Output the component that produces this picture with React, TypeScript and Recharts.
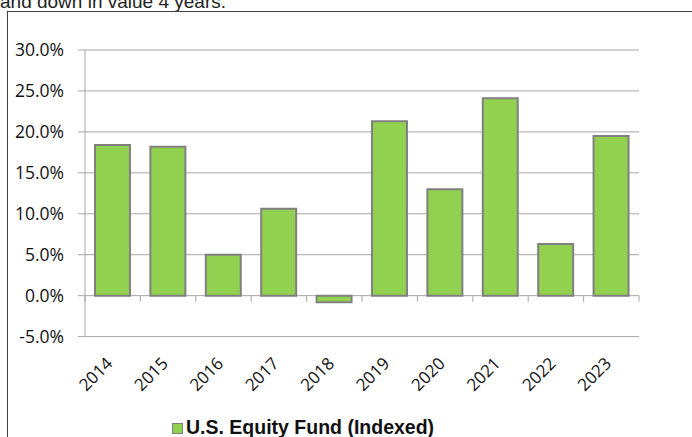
import React from 'react';
import { BarChart, Bar, XAxis, YAxis, CartesianGrid, Legend, ReferenceLine } from 'recharts';

const years = ['2014', '2015', '2016', '2017', '2018', '2019', '2020', '2021', '2022', '2023'];
const returns = [0.184, 0.182, 0.05, 0.106, -0.008, 0.213, 0.13, 0.241, 0.063, 0.195];
const yTicks = [-0.05, 0, 0.05, 0.1, 0.15, 0.2, 0.25, 0.3];
const seriesName = 'U.S. Equity Fund (Indexed)';
const caption = 'and down in value 4 years.';

const data = years.map((year, i) => ({ year, value: returns[i] }));

const BAR_FILL = '#92D050';
const BAR_STROKE = '#808080';
const GRID = '#a6a6a6';
const TICK_LEN = 0.0075;

const XTick = (props: any) => {
  const { x, y, payload } = props;
  return (
    <g transform={`translate(${x},${y})`}>
      <text
        x={1}
        y={28}
        textAnchor="end"
        transform="rotate(-45, 1, 28)"
        fontFamily="Open Sans"
        fontSize={17}
        fill="#111"
      >
        {payload.value}
      </text>
    </g>
  );
};

const LegendContent = () => (
  <svg width={692} height={30} style={{ display: 'block' }}>
    <rect x={172.5} y={16.5} width={10} height={10} fill={BAR_FILL} stroke={BAR_STROKE} strokeWidth={1} />
    <text x={186} y={27} fontFamily="Liberation Sans" fontWeight="bold" fontSize={19.5} fill="#111">
      {seriesName}
    </text>
  </svg>
);

export default function App() {
  return (
    <div style={{ position: 'absolute', left: 0, top: 0, width: 692, height: 437, overflow: 'hidden', background: '#fff' }}>
      <svg width={692} height={437} style={{ position: 'absolute', left: 0, top: 0 }}>
        <text x={0} y={8} fontFamily="Liberation Sans" fontSize={19} fill="#222">{caption}</text>
        <line x1={7.5} y1={11} x2={7.5} y2={437} stroke="#404040" strokeWidth={1} />
        <line x1={7} y1={11.5} x2={692} y2={11.5} stroke="#404040" strokeWidth={1} />
      </svg>
      <div style={{ position: 'absolute', left: 0, top: 0 }}>
        <BarChart
          width={692}
          height={437}
          data={data}
          margin={{ top: 50, right: 53, left: 0, bottom: 0 }}
          barCategoryGap="18%"
        >
          <CartesianGrid vertical={false} stroke={GRID} strokeWidth={1} />
          <XAxis
            dataKey="year"
            axisLine={false}
            tickLine={false}
            tickSize={0}
            tickMargin={0}
            interval={0}
            height={70.4}
            tick={<XTick />}
          />
          <YAxis
            width={85}
            domain={[-0.05, 0.3]}
            ticks={yTicks}
            interval={0}
            tickFormatter={(v: number) => `${(v * 100).toFixed(1)}%`}
            axisLine={{ stroke: GRID }}
            tickLine={{ stroke: GRID }}
            tickSize={7}
            tickMargin={14}
            tick={{ fontFamily: 'Open Sans', fontSize: 17.5, fill: '#111' }}
          />
          {years.map((yr) => (
            <ReferenceLine
              key={'t' + yr}
              segment={[{ x: yr, y: 0 }, { x: yr, y: -TICK_LEN }]}
              position="start"
              stroke={GRID}
              ifOverflow="visible"
            />
          ))}
          <ReferenceLine
            segment={[{ x: years[years.length - 1], y: 0 }, { x: years[years.length - 1], y: -TICK_LEN }]}
            position="end"
            stroke={GRID}
            ifOverflow="visible"
          />
          <Bar
            dataKey="value"
            name={seriesName}
            fill={BAR_FILL}
            stroke={BAR_STROKE}
            strokeWidth={2}
            isAnimationActive={false}
          />
          <Legend verticalAlign="bottom" height={30} content={<LegendContent />} />
        </BarChart>
      </div>
    </div>
  );
}
